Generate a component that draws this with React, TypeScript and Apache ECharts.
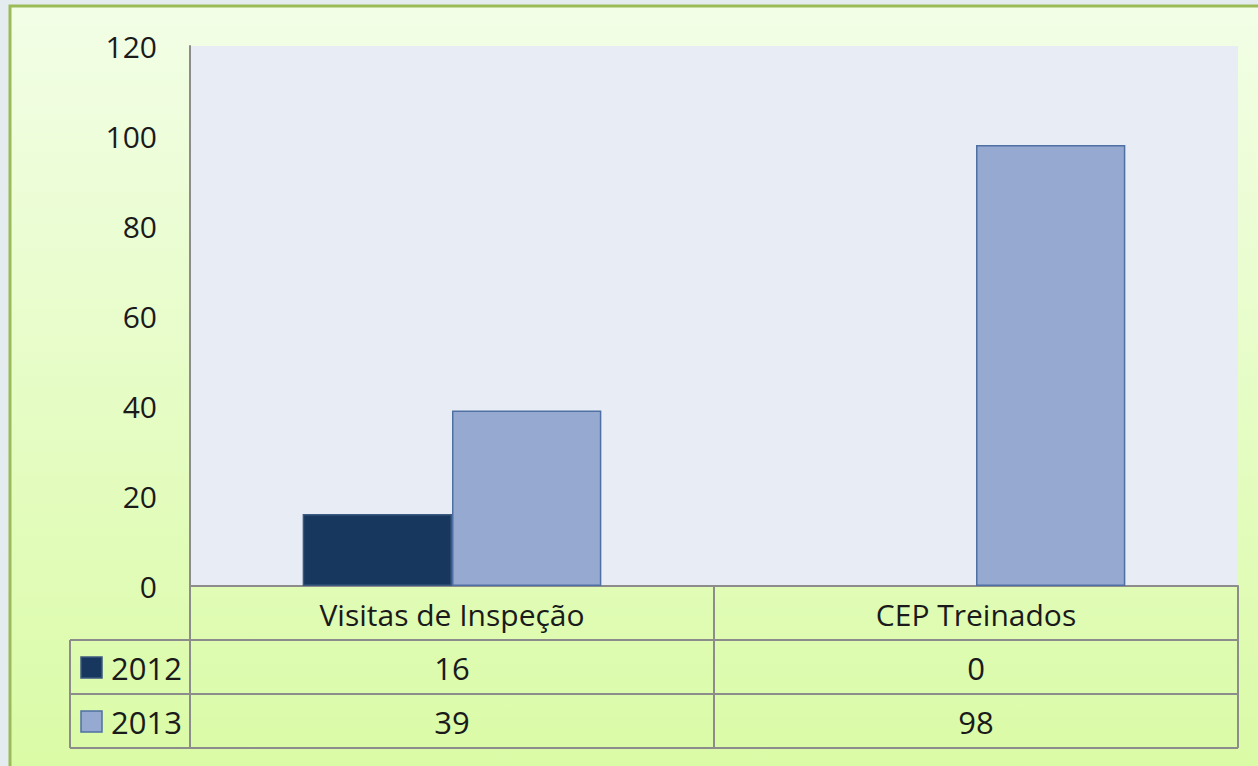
import React, { useEffect, useRef } from "react";
import * as echarts from "echarts";

const categories = ["Visitas de Inspeção", "CEP Treinados"];
const seriesNames = ["2012", "2013"];
const values2012 = [16, 0];
const values2013 = [39, 98];
const seriesColors = ["#17375E", "#95A9D1"];
const seriesBorders = ["#3C5A80", "#4E70A3"];
const yMin = 0;
const yMax = 120;
const yInterval = 20;

const FONT = "'Open Sans', 'Noto Sans', sans-serif";

export default function App() {
  const ref = useRef<HTMLDivElement>(null);

  useEffect(() => {
    if (!ref.current) return;
    const chart = echarts.init(ref.current, null, { renderer: "svg" });
    const W = 1258;
    const H = 766;
    const GL = 190, GT = 46, GR = 1238, GB = 586;
    const ROW = 54;
    const TL = 70;
    const lineColor = "#8C8C8C";
    const textColor = "#1A1A1A";

    const allValues = [values2012, values2013];

    chart.setOption({
      animation: false,
      backgroundColor: "#E4ECEF",
      grid: {
        left: GL,
        top: GT,
        right: W - GR,
        bottom: H - GB,
        show: true,
        backgroundColor: "#E8ECF5",
        borderWidth: 0,
        containLabel: false,
      },
      xAxis: {
        type: "category",
        data: categories,
        axisLine: { show: true, lineStyle: { color: lineColor, width: 2 } },
        axisTick: { show: false },
        axisLabel: {
          margin: 28,
          verticalAlign: "middle",
          fontSize: 30,
          color: textColor,
          fontFamily: FONT,
        },
      },
      yAxis: {
        type: "value",
        min: yMin,
        max: yMax,
        interval: yInterval,
        axisLine: { show: true, lineStyle: { color: lineColor, width: 2 } },
        axisTick: { show: false },
        splitLine: { show: false },
        axisLabel: {
          margin: 33,
          fontSize: 30,
          color: textColor,
          fontFamily: FONT,
        },
      },
      series: seriesNames.map((name, i) => ({
        name,
        type: "bar",
        data: allValues[i].map((v) =>
          v === 0 ? { value: v, itemStyle: { opacity: 0, borderWidth: 0 } } : v
        ),
        barGap: "0%",
        barCategoryGap: "43%",
        itemStyle: {
          color: seriesColors[i],
          borderColor: seriesBorders[i],
          borderWidth: 1.5,
        },
        z: 1,
      })),
    });

    const graphics: any[] = [];
    graphics.push({
      type: "rect",
      z: -100,
      shape: { x: 10, y: 6, width: W + 10, height: H + 10 },
      style: {
        fill: new echarts.graphic.LinearGradient(0, 0, 0, 1, [
          { offset: 0, color: "#F2FEE6" },
          { offset: 1, color: "#DAFBA5" },
        ]),
        stroke: "#9BBB59",
        lineWidth: 3,
      },
      silent: true,
    });

    const hLine = (x1: number, x2: number, y: number) => ({
      type: "line",
      z: 100,
      shape: { x1, y1: y, x2, y2: y },
      style: { stroke: lineColor, lineWidth: 2 },
      silent: true,
    });
    const vLine = (x: number, y1: number, y2: number) => ({
      type: "line",
      z: 100,
      shape: { x1: x, y1, x2: x, y2 },
      style: { stroke: lineColor, lineWidth: 2 },
      silent: true,
    });

    const tableBottom = GB + ROW * (1 + seriesNames.length);
    for (let r = 1; r <= seriesNames.length + 1; r++) {
      graphics.push(hLine(TL, GR, GB + ROW * r));
    }
    graphics.push(vLine(TL, GB + ROW, tableBottom));
    const band = (GR - GL) / categories.length;
    for (let c = 0; c <= categories.length; c++) {
      graphics.push(vLine(GL + band * c, GB, tableBottom));
    }

    seriesNames.forEach((name, r) => {
      const cy = GB + ROW * (r + 1) + ROW / 2;
      graphics.push({
        type: "rect",
        z: 100,
        shape: { x: 81, y: cy - 10, width: 21, height: 21 },
        style: { fill: seriesColors[r], stroke: seriesBorders[r], lineWidth: 1.5 },
        silent: true,
      });
      graphics.push({
        type: "text",
        z: 100,
        x: 111,
        y: cy + 1,
        style: {
          text: name,
          fill: textColor,
          font: `31px ${FONT}`,
          verticalAlign: "middle",
          align: "left",
        },
        silent: true,
      });
      allValues[r].forEach((v, c) => {
        const px = chart.convertToPixel({ xAxisIndex: 0 }, c) as number;
        graphics.push({
          type: "text",
          z: 100,
          x: px,
          y: cy + 1,
          style: {
            text: String(v),
            fill: textColor,
            font: `31px ${FONT}`,
            verticalAlign: "middle",
            align: "center",
          },
          silent: true,
        });
      });
    });

    chart.setOption({ graphic: { elements: graphics } });

    return () => chart.dispose();
  }, []);

  return (
    <div
      ref={ref}
      style={{ position: "absolute", left: 0, top: 0, width: 1258, height: 766 }}
    />
  );
}
